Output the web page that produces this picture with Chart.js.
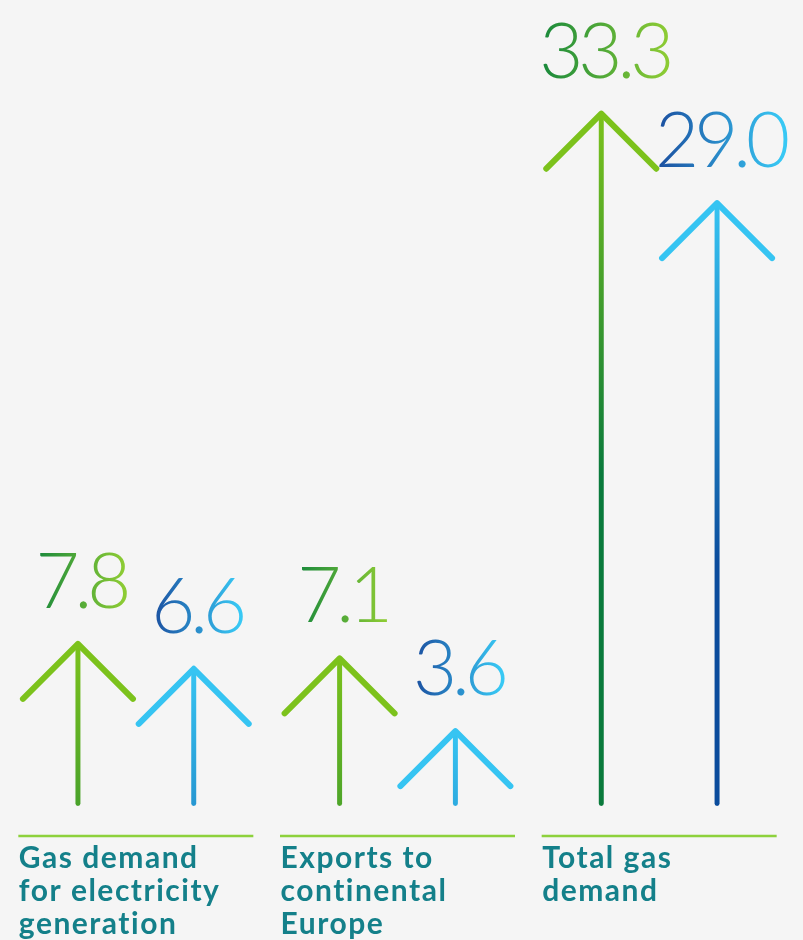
<!DOCTYPE html>
<html>
<head>
<meta charset="utf-8">
<script src="https://cdn.jsdelivr.net/npm/chart.js@4.4.1/dist/chart.umd.min.js"></script>
<style>
  html, body { margin: 0; padding: 0; background: #f5f5f5; }
  #wrap { position: relative; width: 803px; height: 940px; }
</style>
</head>
<body>
<div id="wrap"><canvas id="gasChart"></canvas></div>
<script>
// Gas demand figures (bcm), two periods per category
const categories = [
    ['Gas demand', 'for electricity', 'generation'],
    ['Exports to', 'continental', 'Europe'],
    ['Total gas', 'demand']
];
const firstPeriod = [7.8, 7.1, 33.3];
const secondPeriod = [6.6, 3.6, 29.0];

const palette = {
    green: { tip: '#7cc21c', base: '#0a7a3c', textLeft: '#14863c', textRight: '#8ccb34' },
    blue: { tip: '#36c4f2', base: '#0b4c9c', textLeft: '#1a4a9c', textRight: '#38c8f4' }
};

const HEAD = 55;
const FADE = 360; // px over which the shaft darkens

function shaftGradient(ctx, set) {
    const chart = ctx.chart;
    if (!chart.chartArea || ctx.raw === undefined) return set.tip;
    const y = chart.scales.y.getPixelForValue(ctx.raw);
    const g = chart.ctx.createLinearGradient(0, y, 0, y + FADE);
    g.addColorStop(0, set.tip);
    g.addColorStop(1, set.base);
    return g;
}

// arrowheads, value labels, category rules and names
const arrowPlugin = {
    id: 'arrows',
    afterDatasetsDraw(chart) {
        const c = chart.ctx;
        const area = chart.chartArea;
        chart.data.datasets.forEach((ds, di) => {
            const set = ds.set;
            chart.getDatasetMeta(di).data.forEach((bar, i) => {
                const x = bar.x, y = bar.y;
                c.save();
                c.strokeStyle = set.tip;
                c.lineWidth = 6;
                c.lineCap = 'round';
                c.lineJoin = 'round';
                c.beginPath();
                c.moveTo(x - HEAD, y + HEAD);
                c.lineTo(x, y);
                c.lineTo(x + HEAD, y + HEAD);
                c.stroke();

                const txt = ds.data[i].toFixed(1);
                c.font = '300 76px Lato';
                c.letterSpacing = '-5px';
                const w = c.measureText(txt).width;
                const g = c.createLinearGradient(x - w / 2, 0, x + w / 2, 0);
                g.addColorStop(0, set.textLeft);
                g.addColorStop(1, set.textRight);
                c.fillStyle = g;
                c.textAlign = 'center';
                c.textBaseline = 'alphabetic';
                c.fillText(txt, x + 3, y - 36);
                c.restore();
            });
        });

        const xs = chart.scales.x;
        categories.forEach((lines, i) => {
            const cx = xs.getPixelForValue(i);
            c.save();
            c.strokeStyle = '#8dd13c';
            c.lineWidth = 2.5;
            c.beginPath();
            c.moveTo(cx - 117.5, area.bottom + 30);
            c.lineTo(cx + 117.5, area.bottom + 30);
            c.stroke();
            c.fillStyle = '#14808a';
            c.font = 'bold 30px Lato';
            c.letterSpacing = '1.5px';
            c.textAlign = 'left';
            c.textBaseline = 'alphabetic';
            lines.forEach((ln, k) => c.fillText(ln, cx - 117, area.bottom + 62 + k * 33));
            c.restore();
        });
    }
};

const ctx = document.getElementById('gasChart').getContext('2d');

new Chart(ctx, {
    type: 'bar',
    data: {
        labels: categories.map(l => l.join(' ')),
        datasets: [
            {
                data: firstPeriod,
                set: palette.green,
                backgroundColor: c => shaftGradient(c, palette.green)
            },
            {
                data: secondPeriod,
                set: palette.blue,
                backgroundColor: c => shaftGradient(c, palette.blue)
            }
        ]
    },
    options: {
        responsive: true,
        maintainAspectRatio: false,
        animation: false,
        layout: { padding: { left: 5, right: 13, top: 16, bottom: 134 } },
        datasets: {
            bar: {
                barPercentage: 0.043,
                categoryPercentage: 0.885,
                borderSkipped: false,
                borderRadius: { topLeft: 0, topRight: 0, bottomLeft: 2.5, bottomRight: 2.5 }
            }
        },
        plugins: { legend: { display: false }, tooltip: { enabled: false } },
        scales: {
            x: { display: false },
            y: { display: false, min: 0, max: 38 }
        }
    },
    plugins: [arrowPlugin]
});
</script>
</body>
</html>
